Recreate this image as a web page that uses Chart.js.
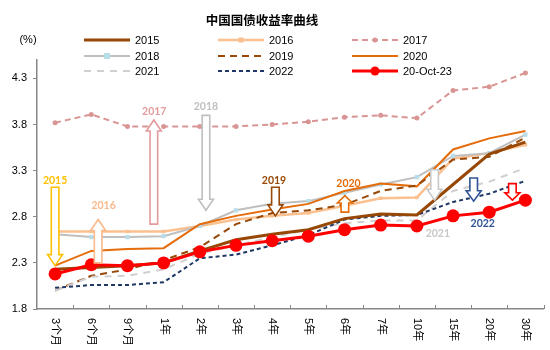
<!DOCTYPE html>
<html>
<head>
<meta charset="utf-8">
<script src="https://cdn.jsdelivr.net/npm/chart.js@4.4.0/dist/chart.umd.min.js"></script>
<style>
  html, body { margin: 0; padding: 0; background: #fff; }
  #wrap { width: 550px; height: 350px; position: relative; }
</style>
</head>
<body>
<div id="wrap"><canvas id="c" width="550" height="350"></canvas></div>
<script>
// ---- data ----
const categories = ['3个月','6个月','9个月','1年','2年','3年','4年','5年','6年','7年','10年','15年','20年','30年'];
const seriesNames = ['2015','2016','2017','2018','2019','2020','2021','2022','20-Oct-23'];
const y2015 = [2.23, 2.25, 2.27, 2.30, 2.43, 2.55, 2.61, 2.66, 2.78, 2.83, 2.82, 3.15, 3.48, 3.61];
const y2016 = [2.64, 2.64, 2.64, 2.64, 2.70, 2.77, 2.81, 2.84, 2.92, 3.00, 3.01, 3.43, 3.49, 3.58];
const y2017 = [3.82, 3.91, 3.78, 3.78, 3.78, 3.78, 3.80, 3.83, 3.88, 3.90, 3.87, 4.17, 4.21, 4.36];
const y2018 = [2.61, 2.58, 2.58, 2.59, 2.70, 2.87, 2.94, 2.97, 3.06, 3.15, 3.23, 3.46, 3.49, 3.69];
const y2019 = [2.00, 2.16, 2.23, 2.33, 2.47, 2.72, 2.84, 2.87, 2.93, 3.08, 3.14, 3.42, 3.45, 3.66];
const y2020 = [2.27, 2.43, 2.45, 2.46, 2.72, 2.81, 2.88, 2.94, 3.08, 3.16, 3.13, 3.53, 3.65, 3.73];
const y2021 = [2.00, 2.15, 2.16, 2.23, 2.40, 2.49, 2.58, 2.66, 2.73, 2.76, 2.76, 3.08, 3.18, 3.33];
const y2022 = [2.03, 2.06, 2.06, 2.09, 2.35, 2.39, 2.49, 2.60, 2.77, 2.81, 2.82, 2.96, 3.05, 3.19];
const yOct23 = [2.18, 2.28, 2.27, 2.30, 2.42, 2.49, 2.54, 2.59, 2.66, 2.71, 2.70, 2.81, 2.85, 2.98];
const yTicks = [1.8, 2.3, 2.8, 3.3, 3.8, 4.3];

// annotation arrows (category position, start value, end value, label)
const arrowNames = ['2015','2016','2017','2018','2019','2020','2021','2022',''];
const arrowAt    = [0, 1.19, 2.73, 4.17, 6.09, 8.01, 10.49, 11.57, 12.64];
const arrowFrom  = [3.12, 2.30, 2.72, 3.90, 3.12, 2.85, 3.31, 3.22, 3.16];
const arrowTo    = [2.27, 2.77, 3.85, 2.87, 2.81, 3.03, 2.98, 2.97, 2.98];
const arrowLabelAt  = [0, 1.34, 2.74, 4.17, 6.05, 8.11, 10.58, 11.82, null];
const arrowLabelVal = [3.19, 2.92, 3.94, 3.99, 3.19, 3.16, 2.62, 2.73, null];
const arrowColors = ['#FFC000','#F8B98C','#E39B9B','#BFBFBF','#984807','#E46C0A','#C8C8C8','#2F5597','#FF0000'];

const FONT = '"Liberation Sans", Arial, "Noto Sans CJK SC", sans-serif';

const datasets = [
  { label: seriesNames[0], data: y2015, borderColor: '#974706', borderWidth: 3, pointRadius: 0, order: 2 },
  { label: seriesNames[1], data: y2016, borderColor: '#FAC090', borderWidth: 2.5, pointRadius: 2.5, pointStyle: 'rect', pointBackgroundColor: '#FAC090', pointBorderWidth: 0, order: 9 },
  { label: seriesNames[2], data: y2017, borderColor: '#D99594', borderWidth: 2, borderDash: [6, 4], pointRadius: 2.5, pointBackgroundColor: '#D99594', pointBorderWidth: 0, order: 8 },
  { label: seriesNames[3], data: y2018, borderColor: '#BFBFBF', borderWidth: 2, pointRadius: 3, pointStyle: 'rect', pointBackgroundColor: '#B7DEE8', pointBorderWidth: 0, order: 7 },
  { label: seriesNames[4], data: y2019, borderColor: '#984807', borderWidth: 2, borderDash: [7, 5], pointRadius: 0, order: 5 },
  { label: seriesNames[5], data: y2020, borderColor: '#E46C0A', borderWidth: 2, pointRadius: 0, order: 6 },
  { label: seriesNames[6], data: y2021, borderColor: '#D0D0D0', borderWidth: 2, borderDash: [7, 6], pointRadius: 0, order: 4 },
  { label: seriesNames[7], data: y2022, borderColor: '#1F3864', borderWidth: 2, borderDash: [4, 3], pointRadius: 0, order: 3 },
  { label: seriesNames[8], data: yOct23, borderColor: '#FF0000', borderWidth: 3, pointRadius: 6.5, pointBackgroundColor: '#FF0000', pointBorderWidth: 0, order: 1 }
];
datasets.forEach(d => { d.tension = 0; d.fill = false; d.pointHoverRadius = d.pointRadius; });

const AXIS = '#868686';

const decor = {
  id: 'decor',
  afterDatasetsDraw(chart) {
    const ctx = chart.ctx, xs = chart.scales.x, ys = chart.scales.y;
    // arrows
    for (let i = 0; i < arrowAt.length; i++) {
      const x = xs.getPixelForValue(arrowAt[i]);
      const y0 = ys.getPixelForValue(arrowFrom[i]);
      const y1 = ys.getPixelForValue(arrowTo[i]);
      const dir = y1 > y0 ? 1 : -1;
      const len = Math.abs(y1 - y0);
      const sw = 3.8, hw = 7.5, hl = Math.min(11, len * 0.45);
      const yh = y1 - dir * hl;
      ctx.save();
      ctx.beginPath();
      ctx.moveTo(x - sw, y0);
      ctx.lineTo(x + sw, y0);
      ctx.lineTo(x + sw, yh);
      ctx.lineTo(x + hw, yh);
      ctx.lineTo(x, y1);
      ctx.lineTo(x - hw, yh);
      ctx.lineTo(x - sw, yh);
      ctx.closePath();
      ctx.fillStyle = '#fff';
      ctx.fill();
      ctx.lineWidth = 1.6;
      ctx.strokeStyle = arrowColors[i];
      ctx.lineJoin = 'miter';
      ctx.stroke();
      if (arrowNames[i]) {
        ctx.fillStyle = arrowColors[i];
        ctx.font = 'bold 10.5px Lato, "Liberation Sans", sans-serif';
        ctx.textAlign = 'center';
        ctx.textBaseline = 'middle';
        ctx.fillText(arrowNames[i], xs.getPixelForValue(arrowLabelAt[i]), ys.getPixelForValue(arrowLabelVal[i]));
      }
      ctx.restore();
    }
  },
  afterDraw(chart) {
    const ctx = chart.ctx, xs = chart.scales.x, ca = chart.chartArea;
    ctx.save();
    // x tick marks (inside, between categories)
    ctx.strokeStyle = AXIS;
    ctx.lineWidth = 1;
    for (let i = 1; i <= categories.length; i++) {
      const x = Math.round(xs.getPixelForValue(i - 0.5)) + 0.5;
      ctx.beginPath();
      ctx.moveTo(x, ca.bottom);
      ctx.lineTo(x, ca.bottom - 4);
      ctx.stroke();
    }
    // x labels rotated clockwise
    ctx.fillStyle = '#000';
    ctx.font = '11px ' + FONT;
    ctx.textAlign = 'left';
    ctx.textBaseline = 'middle';
    categories.forEach((c, i) => {
      ctx.save();
      ctx.translate(xs.getPixelForValue(i), ca.bottom + 9);
      ctx.rotate(Math.PI / 2);
      ctx.fillText(c, 0, 0);
      ctx.restore();
    });
    // title
    ctx.font = 'bold 12.5px "Noto Sans CJK SC", sans-serif';
    ctx.textAlign = 'center';
    ctx.fillText('中国国债收益率曲线', 262, 20);
    // unit
    ctx.font = '11px ' + FONT;
    ctx.fillText('(%)', 28, 40);
    // legend
    const colX = [84, 218, 352], rowY = [40, 56, 71];
    chart.data.datasets.forEach((d, i) => {
      const cx = colX[i % 3], cy = rowY[Math.floor(i / 3)];
      ctx.save();
      ctx.strokeStyle = d.borderColor;
      ctx.lineWidth = d.borderWidth;
      ctx.setLineDash(d.borderDash || []);
      ctx.beginPath();
      ctx.moveTo(cx, cy);
      ctx.lineTo(cx + 46, cy);
      ctx.stroke();
      ctx.setLineDash([]);
      if (d.pointRadius > 0) {
        ctx.fillStyle = d.pointBackgroundColor;
        const r = Math.min(d.pointRadius, 4.5);
        if (d.pointStyle === 'rect') {
          ctx.fillRect(cx + 23 - r, cy - r, 2 * r, 2 * r);
        } else {
          ctx.beginPath();
          ctx.arc(cx + 23, cy, r, 0, Math.PI * 2);
          ctx.fill();
        }
      }
      ctx.fillStyle = '#000';
      ctx.font = '11px ' + FONT;
      ctx.textAlign = 'left';
      ctx.textBaseline = 'middle';
      ctx.fillText(d.label, cx + 51, cy + 0.5);
      ctx.restore();
    });
    ctx.restore();
  }
};

new Chart(document.getElementById('c'), {
  type: 'line',
  data: { labels: categories, datasets },
  options: {
    responsive: false,
    animation: false,
    layout: { padding: { top: 60, right: 4, left: 0, bottom: 0 } },
    plugins: { legend: { display: false }, title: { display: false }, tooltip: { enabled: false } },
    scales: {
      x: {
        type: 'category',
        offset: true,
        grid: { display: false },
        border: { display: true, color: AXIS, width: 1.5 },
        ticks: { display: false },
        afterFit(s) { s.height = 41; }
      },
      y: {
        min: 1.8,
        max: 4.5,
        afterBuildTicks(s) { s.ticks = yTicks.map(v => ({ value: v })); },
        grid: { display: true, drawOnChartArea: false, drawTicks: true, tickLength: 4, color: AXIS },
        border: { display: true, color: AXIS, width: 1.5 },
        ticks: {
          color: '#000',
          padding: 6,
          font: { size: 11, family: FONT },
          callback: v => v.toFixed(1)
        },
        afterFit(s) { s.width = 37; }
      }
    }
  },
  plugins: [decor]
});
</script>
</body>
</html>
